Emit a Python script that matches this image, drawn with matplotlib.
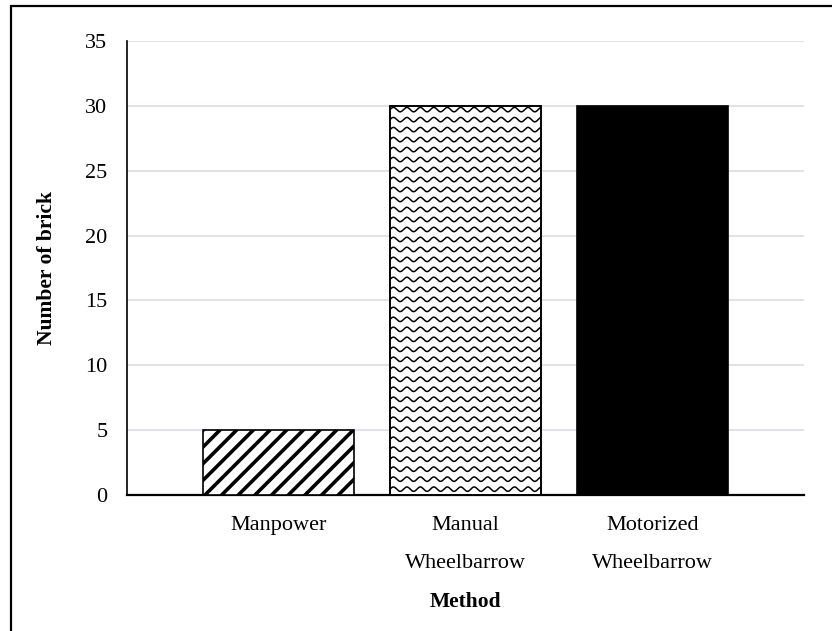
import numpy as np
import matplotlib
matplotlib.use('Agg')
import matplotlib.pyplot as plt
from matplotlib.patches import Rectangle

plt.rcParams['font.family'] = ['Liberation Serif', 'DejaVu Serif']
plt.rcParams['hatch.linewidth'] = 2.6

# data
methods = ['Manpower', 'Manual\nWheelbarrow', 'Motorized\nWheelbarrow']
bricks = [5, 30, 30]
yticks = [0, 5, 10, 15, 20, 25, 30, 35]

fig = plt.figure(figsize=(8.32, 6.31), dpi=100)
ax = fig.add_axes([127/832, 1 - 495/631, (804 - 127)/832, (495 - 41)/631])

x = np.arange(len(methods))
bars = ax.bar(x, bricks, width=0.807, color='white', edgecolor='black',
              linewidth=1.2, zorder=3)
bars[0].set_hatch('//')
bars[2].set_facecolor('black')

# wavy fill for the manual wheelbarrow bar
b = bars[1]
x0, w, h = b.get_x(), b.get_width(), b.get_height()
xs = np.linspace(x0 - 0.05, x0 + w + 0.05, 400)
for y0 in np.arange(0.45, h + 0.5, 0.77):
    ys = y0 + 0.17 * np.sin(2 * np.pi * (xs - x0) / 0.072)
    ln, = ax.plot(xs, ys, color='black', lw=1.1, zorder=4)
    ln.set_clip_path(b)
ax.bar(x[1], h, width=w, color='none', edgecolor='black', linewidth=1.2, zorder=5)

ax.set_xlim(-0.81, 2.81)
ax.set_ylim(0, 35)
ax.set_yticks(yticks)
ax.set_xticks(x)
ax.set_xticklabels(methods, fontsize=16, linespacing=2.35)
ax.tick_params(axis='y', labelsize=16, length=0, pad=14)
ax.tick_params(axis='x', length=0, pad=15)
ax.grid(axis='y', color='#d9dde6', linewidth=1.2, zorder=0)
ax.set_axisbelow(True)
for s in ['top', 'right']:
    ax.spines[s].set_visible(False)
ax.spines['left'].set_linewidth(1.2)
ax.spines['bottom'].set_linewidth(1.6)

ax.set_ylabel('Number of brick', fontsize=15.5, fontweight='bold')
ax.yaxis.set_label_coords(-0.103, 0.5)
ax.set_xlabel('Method', fontsize=15.5, fontweight='bold')
ax.xaxis.set_label_coords(0.5, -0.214)

# outer frame
fig.patches.append(Rectangle((10.5/832, -0.1), 1.2, 1.1 - 6.5/631,
                             transform=fig.transFigure, fill=False,
                             edgecolor='black', linewidth=1.6))

fig.savefig('out.png', dpi=100)
